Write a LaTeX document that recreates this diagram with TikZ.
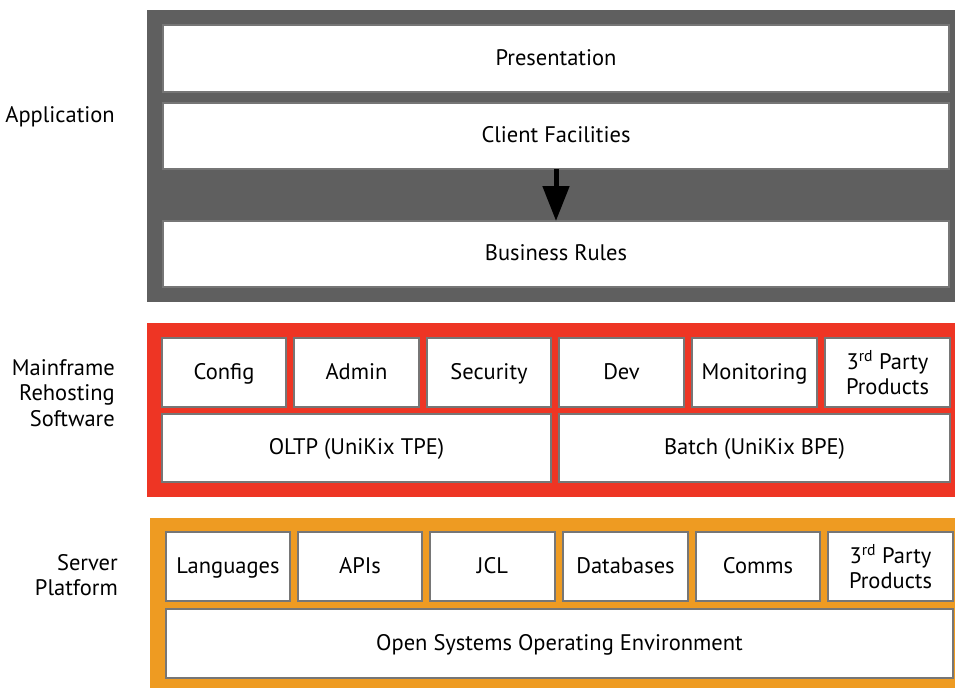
\documentclass[tikz,border=0pt]{standalone}
\usepackage{fontspec}
\setmainfont{PT Sans}
\usetikzlibrary{arrows.meta}
\definecolor{appgray}{HTML}{5F5F5F}
\definecolor{mfred}{HTML}{EE3524}
\definecolor{srvorange}{HTML}{EE9B22}
\definecolor{edgegray}{HTML}{767676}
\newcommand{\ord}[1]{\textsuperscript{#1}}
\tikzset{
  x=1pt, y=-1pt,
  cell/.style={draw=edgegray, line width=1.3pt, fill=white},
  celltext/.style={font=\fontsize{22.5}{25}\selectfont, align=center, inner sep=0pt,
    text height=15pt, text depth=2pt},
  twolinetext/.style={font=\fontsize{22.5}{25}\selectfont, align=center, inner sep=0pt},
  sidelabel/.style={font=\fontsize{22.5}{25.5}\selectfont, align=right, anchor=east, inner sep=0pt},
  flow/.style={line width=5pt, -{Triangle[width=26pt,length=35pt]}}
}
\newcommand{\cellbox}[7][celltext]{% [text style] name, x1, y1, x2, y2, text
  \draw[cell] (#3,#4) rectangle (#5,#6);
  \node[#1] (#2) at ({(#3+#5)/2},{(#4+#6)/2}) {#7};
  \coordinate (#2-n) at ({(#3+#5)/2},#4);
  \coordinate (#2-s) at ({(#3+#5)/2},#6);
}
\begin{document}
\begin{tikzpicture}
\useasboundingbox (0,0) rectangle (955,688);
\fill[white] (0,0) rectangle (955,688);

% Application layer
\fill[appgray] (147,10) rectangle (955,302);
\cellbox{pres}{163}{25}{949}{92}{Presentation}
\cellbox{client}{163}{103}{949}{169}{Client Facilities}
\cellbox{rules}{163}{221}{949}{287}{Business Rules}
\draw[flow] (client-s) -- (rules-n);
\node[sidelabel] (lapp) at (115,117) {Application};

% Mainframe rehosting software layer
\fill[mfred] (147,323) rectangle (955,497);
\cellbox{config}{162}{338}{286}{407}{Config}
\cellbox{admin}{294}{338}{419}{407}{Admin}
\cellbox{security}{427}{338}{551}{407}{Security}
\cellbox{dev}{559}{338}{684}{407}{Dev}
\cellbox{monitor}{692}{338}{817}{407}{Monitoring}
\cellbox[twolinetext]{thirdA}{825}{338}{950}{407}{3\ord{rd} Party\\Products}
\cellbox{oltp}{162}{414}{551}{482}{OLTP (UniKix TPE)}
\cellbox{batch}{559}{414}{950}{482}{Batch (UniKix BPE)}
\node[sidelabel] (lmf) at (115,393) {Mainframe\\Rehosting\\Software};

% Server platform layer
\fill[srvorange] (150,518) rectangle (955,688);
\cellbox{lang}{166}{532}{290}{601}{Languages}
\cellbox{apis}{298}{532}{422}{601}{APIs}
\cellbox{jcl}{430}{532}{555}{601}{JCL}
\cellbox{db}{563}{532}{688}{601}{Databases}
\cellbox{comms}{696}{532}{820}{601}{Comms}
\cellbox[twolinetext]{thirdB}{828}{532}{953}{601}{3\ord{rd} Party\\Products}
\cellbox{osenv}{166}{609}{953}{678}{Open Systems Operating Environment}
\node[sidelabel] (lsrv) at (118,575) {Server\\Platform};
\end{tikzpicture}
\end{document}
